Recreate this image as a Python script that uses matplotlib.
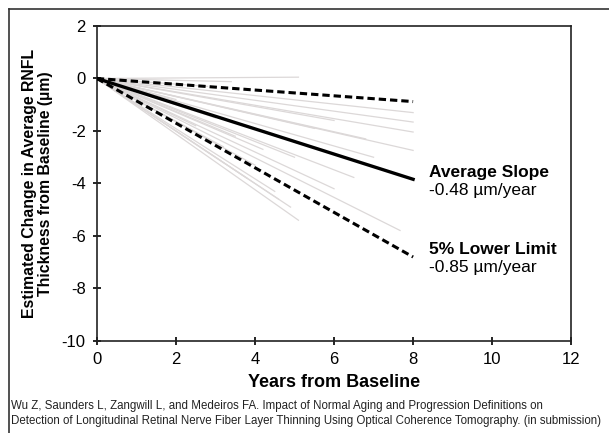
import matplotlib
matplotlib.use("Agg")
import matplotlib.pyplot as plt
from matplotlib.lines import Line2D

plt.rcParams['font.family'] = ['Liberation Sans', 'DejaVu Sans']
plt.rcParams['axes.unicode_minus'] = False

# Individual eye trajectories (end year, end value) starting at origin
indiv_end_x = [5.1, 3.4, 2.8, 8.0, 8.0, 8.0, 8.0, 6.0, 5.5, 4.2, 6.5, 7.67,
               5.1, 4.9, 4.5, 3.5, 3.0, 4.0, 2.5, 3.8, 6.0, 7.0, 2.0, 5.0,
               4.6, 3.2, 6.8]
indiv_end_y = [0.05, -0.12, -0.3, -1.3, -1.66, -2.04, -2.74, -1.6, -1.9, -2.7,
               -3.77, -5.79, -5.4, -4.9, -4.3, -2.2, -1.5, -3.3, -1.8, -3.8,
               -4.2, -3.0, -0.8, -3.0, -4.6, -2.6, -2.3]

years = [0, 8]
avg_slope = -0.48
lower_slope = -0.85
upper_slope = -0.11

x_ticks = [0, 2, 4, 6, 8, 10, 12]
y_ticks = [2, 0, -2, -4, -6, -8, -10]

fig = plt.figure(figsize=(6.09, 4.33), dpi=100)
ax = fig.add_axes([0.159, 0.2125, 0.779, 0.7275])

for ex, ey in zip(indiv_end_x, indiv_end_y):
    ax.plot([0, ex], [0, ey], color='#dcd8d8', lw=0.9, zorder=1)

ax.plot(years, [avg_slope * t for t in years], color='black', lw=2.4, zorder=3)
ax.plot(years, [lower_slope * t for t in years], color='black', lw=2.2,
        dashes=(2.4, 1.3), zorder=3)
ax.plot(years, [upper_slope * t for t in years], color='black', lw=2.2,
        dashes=(2.4, 1.3), zorder=3)

ax.text(8.4, -3.6, 'Average Slope', fontsize=12.5, fontweight='bold', va='center')
ax.text(8.4, -4.28, '-0.48 µm/year', fontsize=12.5, va='center')
ax.text(8.4, -6.5, '5% Lower Limit', fontsize=12.5, fontweight='bold', va='center')
ax.text(8.4, -7.2, '-0.85 µm/year', fontsize=12.5, va='center')

ax.set_xlim(0, 12)
ax.set_ylim(-10, 2)
ax.set_xticks(x_ticks)
ax.set_yticks(y_ticks)
ax.tick_params(direction='inout', length=6, width=1.2, labelsize=12, pad=5)
for s in ax.spines.values():
    s.set_linewidth(1.2)
    s.set_color('#222222')

ax.set_xlabel('Years from Baseline', fontsize=13, fontweight='bold', labelpad=5)
ax.set_ylabel('Estimated Change in Average RNFL\nThickness from Baseline (µm)',
              fontsize=11.4, fontweight='bold', labelpad=6, linespacing=1.1)

fig.text(0.018, 0.046,
         'Wu Z, Saunders L, Zangwill L, and Medeiros FA. Impact of Normal Aging and Progression Definitions on\n'
         'Detection of Longitudinal Retinal Nerve Fiber Layer Thinning Using Optical Coherence Tomography. (in submission)',
         fontsize=8.3, va='center', ha='left', linespacing=1.35, color='#222222')

# outer frame (top and left edges)
fig.add_artist(Line2D([9/609, 1.0], [1 - 9/433, 1 - 9/433], transform=fig.transFigure,
                      color='#333333', lw=1.2))
fig.add_artist(Line2D([9/609, 9/609], [1 - 9/433, 0.0], transform=fig.transFigure,
                      color='#333333', lw=1.2))

fig.savefig('out.png', dpi=100)
